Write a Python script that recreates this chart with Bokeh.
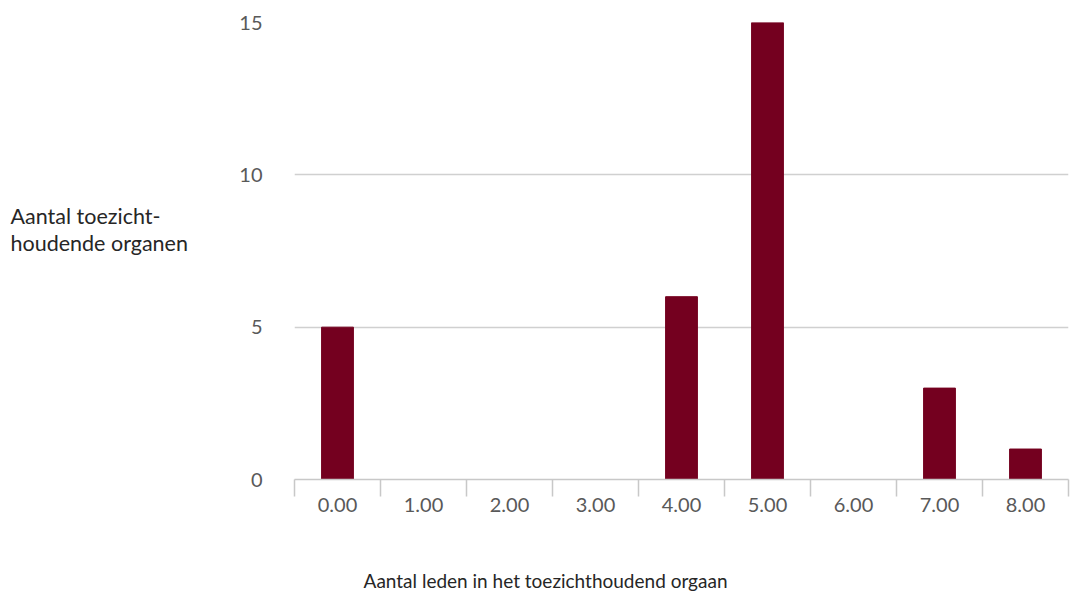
from bokeh.plotting import figure
from bokeh.models import FixedTicker, Range1d
from bokeh.layouts import row, column
from bokeh.core.properties import value
from bokeh.embed import file_html
from bokeh.resources import INLINE

categories = [0, 1, 2, 3, 4, 5, 6, 7, 8]
tick_labels = ["0.00", "1.00", "2.00", "3.00", "4.00", "5.00", "6.00", "7.00", "8.00"]
counts = [5, 0, 0, 0, 6, 15, 0, 3, 1]
y_ticks = [0, 5, 10, 15]
y_title_lines = ["Aantal toezicht-", "houdende organen"]
x_title = ["Aantal leden in het toezichthoudend orgaan"]

H1 = 523
H2 = 69
W_LAB = 200
W_MAIN = 872


def text_panel(w, h):
    f = figure(width=w, height=h, output_backend="svg", toolbar_location=None,
               x_range=Range1d(0, w), y_range=Range1d(h, 0),
               x_axis_location=None, y_axis_location=None,
               min_border_left=0, min_border_right=0, min_border_top=0, min_border_bottom=0)
    f.grid.visible = False
    f.outline_line_color = None
    return f


# left panel holding the horizontal y-axis title
lab = text_panel(W_LAB, H1)
lab.text(x=[10, 10], y=[222, 252], text=y_title_lines, text_font=value("Lato"),
         text_font_size="21.5px", text_color="#262626", text_baseline="alphabetic",
         text_align="left")

p = figure(width=W_MAIN, height=H1, output_backend="svg", toolbar_location=None,
           x_range=Range1d(-0.5, 8.5), y_range=Range1d(0, 15),
           min_border_left=94, min_border_right=4, min_border_top=22, min_border_bottom=44)
p.outline_line_color = None

p.vbar(x=categories, top=counts, width=0.37, bottom=0, color="#74001f")

# x axis
p.xaxis.ticker = FixedTicker(ticks=categories, minor_ticks=[c - 0.5 for c in categories] + [8.5])
p.xaxis.major_label_overrides = {c: l for c, l in zip(categories, tick_labels)}
p.xaxis.major_tick_out = 0
p.xaxis.major_tick_in = 0
p.xaxis.minor_tick_out = 17
p.xaxis.minor_tick_in = 0
p.xaxis.minor_tick_line_color = "#c8c8c8"
p.xaxis.minor_tick_line_width = 1.5
p.xaxis.axis_line_color = "#c8c8c8"
p.xaxis.axis_line_width = 1.5
p.xaxis.major_label_standoff = 1
p.xaxis.major_label_text_font = "Lato"
p.xaxis.major_label_text_font_size = "20px"
p.xaxis.major_label_text_color = "#595959"

# y axis
p.yaxis.ticker = FixedTicker(ticks=y_ticks)
p.yaxis.axis_line_color = None
p.yaxis.major_tick_line_color = None
p.yaxis.minor_tick_line_color = None
p.yaxis.major_label_standoff = 26
p.yaxis.major_label_text_font = "Lato"
p.yaxis.major_label_text_font_size = "20px"
p.yaxis.major_label_text_color = "#595959"

p.xgrid.grid_line_color = None
p.ygrid.ticker = FixedTicker(ticks=y_ticks)
p.ygrid.grid_line_color = "#d0d0d0"
p.ygrid.grid_line_width = 1.5

# bottom panel holding the x-axis title
bot = text_panel(W_LAB + W_MAIN, H2)
bot.text(x=[545], y=[57], text=x_title, text_font=value("Lato"),
         text_font_size="19px", text_color="#262626", text_baseline="middle",
         text_align="center")

open("out.html", "w").write(file_html(column(row(lab, p), bot), INLINE))
